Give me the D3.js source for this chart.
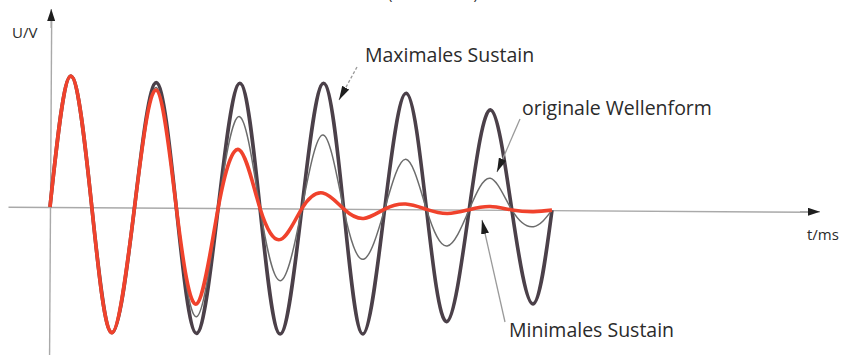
<!DOCTYPE html>
<html>
<head>
<meta charset="utf-8">
<script src="https://cdn.jsdelivr.net/npm/d3@7"></script>
<style>
  html, body { margin: 0; padding: 0; background: #ffffff; }
  svg { display: block; }
  text { font-family: "Open Sans", "Noto Sans", sans-serif; fill: #2b2b2b; }
</style>
</head>
<body>
<svg id="chart" width="842" height="355"></svg>
<script>
// ---- data (time in ms, voltage in relative units) ----
const times = [0, 0.24, 0.5, 0.75, 1.01, 1.26, 1.51, 1.76, 2.01, 2.26, 2.51, 2.76,
               3.01, 3.26, 3.51, 3.75, 4.0, 4.25, 4.5, 4.75, 5.01, 5.26, 5.52, 5.78, 6.0];
const maxSustain = [0, 1.008, 0, -0.964, 0, 0.962, 0, -0.965, 0, 0.961, 0, -0.966,
                    0, 0.965, 0, -0.962, 0, 0.892, 0, -0.863, 0, 0.768, 0, -0.723, 0];
const originalWave = [0, 1.008, 0, -0.964, 0, 0.925, 0, -0.837, 0, 0.704, 0, -0.556,
                      0, 0.567, 0, -0.387, 0, 0.384, 0, -0.281, 0, 0.242, 0, -0.128, 0];
const minSustain = [0, 1.008, 0, -0.964, 0, 0.905, 0, -0.739, 0, 0.448, 0, -0.238,
                    0, 0.121, 0, -0.073, 0, 0.040, 0, -0.031, 0, 0.025, 0, -0.012, 0];
const axisLabels = { y: "U/V", x: "t/ms" };
const seriesNames = ["Maximales Sustain", "originale Wellenform", "Minimales Sustain"];

// ---- scales ----
const svg = d3.select("#chart");
const x = d3.scaleLinear().domain([0, 6]).range([50, 552]);
const y = d3.scaleLinear().domain([-1, 1]).range([337, 77]);

const defs = svg.append("defs");
defs.append("marker").attr("id", "axarrow").attr("viewBox", "0 0 12 8")
  .attr("refX", 12).attr("refY", 4).attr("markerWidth", 12).attr("markerHeight", 8)
  .attr("markerUnits", "userSpaceOnUse").attr("orient", "auto")
  .append("path").attr("d", "M0,0 L12,4 L0,8 Z").attr("fill", "#1e1e1e");
defs.append("marker").attr("id", "annarrow").attr("viewBox", "0 0 14 8")
  .attr("refX", 14).attr("refY", 4).attr("markerWidth", 14).attr("markerHeight", 8)
  .attr("markerUnits", "userSpaceOnUse").attr("orient", "auto")
  .append("path").attr("d", "M0,0 L14,4 L0,8 Z").attr("fill", "#1e1e1e");

// the scanned figure is rotated by a hair
const g = svg.append("g").attr("transform", "rotate(0.36, 50, 207)");

// x axis (no ticks)
const xAxisScale = d3.scaleLinear().domain([x.invert(8), x.invert(808)]).range([8, 808]);
const xAxisG = g.append("g").attr("transform", `translate(0,${y(0)})`)
  .call(d3.axisBottom(xAxisScale).tickValues([]).tickSizeOuter(0));
xAxisG.select(".domain").attr("stroke", "#a9a9a9").attr("stroke-width", 1.4);
g.append("line").attr("x1", 800).attr("x2", 820).attr("y1", y(0)).attr("y2", y(0))
  .attr("stroke", "#a9a9a9").attr("stroke-width", 1.4).attr("marker-end", "url(#axarrow)");

// y axis (no ticks)
const yAxisScale = d3.scaleLinear().domain([y.invert(360), y.invert(20)]).range([360, 20]);
const yAxisG = g.append("g").attr("transform", `translate(${x(0)},0)`)
  .call(d3.axisLeft(yAxisScale).tickValues([]).tickSizeOuter(0));
yAxisG.select(".domain").attr("stroke", "#a9a9a9").attr("stroke-width", 1.4);
g.append("line").attr("x1", x(0)).attr("x2", x(0)).attr("y1", 28).attr("y2", 9)
  .attr("stroke", "#a9a9a9").attr("stroke-width", 1.4).attr("marker-end", "url(#axarrow)");

// waveforms
const line = d3.line().x((d, i) => x(times[i])).y(d => y(d)).curve(d3.curveNatural);
g.append("path").datum(maxSustain).attr("d", line)
  .attr("fill", "none").attr("stroke", "#4b4049").attr("stroke-width", 3.6)
  .attr("stroke-linejoin", "round");
g.append("path").datum(originalWave).attr("d", line)
  .attr("fill", "none").attr("stroke", "#6c6c6c").attr("stroke-width", 1.5);
g.append("path").datum(minSustain).attr("d", line)
  .attr("fill", "none").attr("stroke", "#f0422c").attr("stroke-width", 3.6)
  .attr("stroke-linejoin", "round");

// cut-off heading at the very top (only the bottoms of the brackets show)
svg.append("text").attr("x", 388).attr("y", -1).attr("font-size", 15)
  .attr("textLength", 90).text("(schematisch)");

// axis labels
svg.append("text").attr("x", 12).attr("y", 38).attr("font-size", 15).text(axisLabels.y);
svg.append("text").attr("x", 807).attr("y", 240).attr("font-size", 15).text(axisLabels.x);

// annotations
svg.append("text").attr("x", 365).attr("y", 62).attr("font-size", 19.5).text(seriesNames[0]);
svg.append("line").attr("x1", 357).attr("y1", 67).attr("x2", 339).attr("y2", 100)
  .attr("stroke", "#9a9a9a").attr("stroke-width", 1.3).attr("stroke-dasharray", "3,2")
  .attr("marker-end", "url(#annarrow)");

svg.append("text").attr("x", 522).attr("y", 115).attr("font-size", 19.5).text(seriesNames[1]);
svg.append("line").attr("x1", 520).attr("y1", 119).attr("x2", 497).attr("y2", 172)
  .attr("stroke", "#9a9a9a").attr("stroke-width", 1.3).attr("marker-end", "url(#annarrow)");

svg.append("text").attr("x", 509).attr("y", 337).attr("font-size", 19.5).text(seriesNames[2]);
svg.append("line").attr("x1", 505).attr("y1", 322).attr("x2", 482).attr("y2", 220)
  .attr("stroke", "#9a9a9a").attr("stroke-width", 1.3).attr("marker-end", "url(#annarrow)");
</script>
</body>
</html>
